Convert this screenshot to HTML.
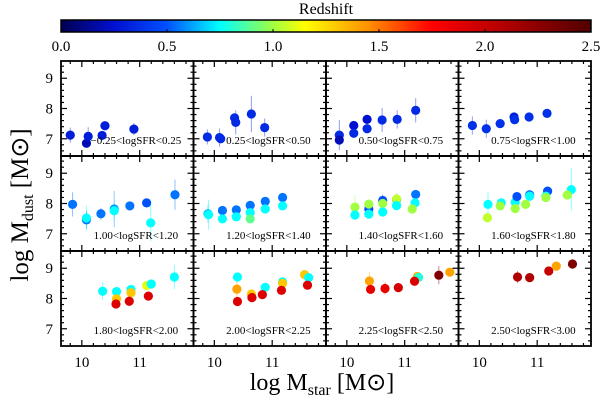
<!DOCTYPE html>
<html><head><meta charset="utf-8"><style>
html,body{margin:0;padding:0;background:#fff;}
svg{display:block;}
text{font-family:"Liberation Serif",serif;fill:#000;}
</style></head><body>
<svg id="chart" width="600" height="401" viewBox="0 0 600 401" xmlns="http://www.w3.org/2000/svg">
<defs>
<linearGradient id="cbar" x1="0" x2="1" y1="0" y2="0">
<stop offset="0" stop-color="#000050"/>
<stop offset="0.1" stop-color="#0010d0"/>
<stop offset="0.2" stop-color="#0050ff"/>
<stop offset="0.3" stop-color="#00ffff"/>
<stop offset="0.4" stop-color="#a0ff40"/>
<stop offset="0.46" stop-color="#ffff00"/>
<stop offset="0.58" stop-color="#ff9000"/>
<stop offset="0.7" stop-color="#ff0000"/>
<stop offset="0.84" stop-color="#b00000"/>
<stop offset="1" stop-color="#500000"/>
</linearGradient>
</defs>
<g id="cbarg"></g>
<g id="panels"></g>
<text x="0" y="0" font-size="25" text-anchor="middle" transform="translate(28,205) rotate(-90)">log M<tspan font-size="16" dy="5">dust</tspan><tspan dy="-5"> [M⊙]</tspan></text>
<text x="322" y="390" font-size="24" text-anchor="middle">log M<tspan font-size="16" dy="5">star</tspan><tspan dy="-5"> [M⊙]</tspan></text>
</svg>
<script>
const NS='http://www.w3.org/2000/svg';
const cbarTicks=[0.0,0.5,1.0,1.5,2.0,2.5];
const xTicks=[10,11];
const yTicks=[7,8,9];
const panelLabels=["\u22120.25<logSFR<0.25","0.25<logSFR<0.50","0.50<logSFR<0.75","0.75<logSFR<1.00","1.00<logSFR<1.20","1.20<logSFR<1.40","1.40<logSFR<1.60","1.60<logSFR<1.80","1.80<logSFR<2.00","2.00<logSFR<2.25","2.25<logSFR<2.50","2.50<logSFR<3.00"];
// each point: [logMstar, logMdust, redshift, err]
const p0=[[9.80,7.12,0.3,0.25],[10.08,6.85,0.2,0.1],[10.11,7.08,0.3,0.3],[10.35,7.11,0.3,0.15],[10.40,7.43,0.3,0.1],[10.90,7.32,0.3,0.2]];
const p1=[[9.88,7.06,0.35,0.25],[10.09,7.04,0.35,0.3],[10.11,7.0,0.35,0.1],[10.35,7.69,0.35,0.15],[10.37,7.54,0.35,0.4],[10.64,7.82,0.35,0.6],[10.87,7.37,0.35,0.3]];
const p2=[[9.87,7.12,0.35,0.5],[9.87,6.96,0.2,0.1],[10.12,7.44,0.25,0.1],[10.12,7.18,0.35,0.1],[10.35,7.64,0.25,0.1],[10.35,7.33,0.35,0.1],[10.61,7.62,0.35,0.4],[10.87,7.64,0.35,0.3],[11.19,7.94,0.35,0.4]];
const p3=[[9.88,7.44,0.38,0.3],[10.12,7.33,0.38,0.3],[10.36,7.50,0.38,0.1],[10.60,7.72,0.3,0.1],[10.61,7.63,0.38,0.1],[10.86,7.72,0.38,0.1],[11.17,7.84,0.38,0.1]];
const p4=[[9.84,7.97,0.55,0.4],[10.08,7.46,0.55,0.3],[10.08,7.52,0.75,0.4],[10.33,7.66,0.55,0.2],[10.56,7.82,0.6,0.6],[10.56,7.76,0.75,0.3],[10.83,7.92,0.55,0.1],[11.12,8.02,0.5,0.1],[11.19,7.36,0.75,0.6],[11.61,8.29,0.55,0.5]];
const p5=[[9.89,7.66,0.65,0.3],[9.90,7.63,0.75,0.5],[10.14,7.77,0.55,0.1],[10.14,7.49,0.75,0.1],[10.38,7.79,0.55,0.1],[10.38,7.56,0.75,0.1],[10.62,7.94,0.55,0.1],[10.62,7.70,0.75,0.1],[10.62,7.49,0.9,0.1],[10.88,8.07,0.55,0.1],[10.88,7.82,0.75,0.1],[11.18,8.20,0.55,0.1],[11.18,7.92,0.75,0.1]];
const p6=[[10.14,7.88,1.0,0.4],[10.14,7.62,0.75,0.1],[10.38,7.82,0.5,0.1],[10.38,7.98,1.0,0.1],[10.38,7.65,0.75,0.1],[10.62,8.10,0.5,0.2],[10.62,8.00,1.0,0.1],[10.62,7.72,0.75,0.1],[10.86,8.13,0.55,0.2],[10.86,8.15,1.05,0.1],[10.86,7.93,0.75,0.1],[11.19,8.30,0.55,0.1],[11.18,8.02,0.75,0.1],[11.13,7.82,1.0,0.1]];
const p7=[[10.15,7.97,0.75,0.4],[10.14,7.53,1.05,0.1],[10.38,8.02,0.75,0.1],[10.36,7.92,1.0,0.1],[10.62,8.04,0.75,0.1],[10.62,7.83,1.0,0.1],[10.65,8.23,0.5,0.1],[10.87,8.29,0.55,0.1],[10.87,8.24,0.75,0.1],[10.80,7.97,1.0,0.1],[11.18,8.41,0.5,0.1],[11.15,8.24,0.75,0.1],[11.15,8.20,1.0,0.1],[11.59,8.46,0.75,0.7],[11.52,8.28,1.0,0.1]];
const p8=[[10.36,8.24,0.75,0.3],[10.60,8.23,0.75,0.1],[10.60,7.99,1.3,0.1],[10.59,7.82,1.9,0.1],[10.85,8.30,0.75,0.1],[10.85,8.19,1.3,0.1],[10.82,7.91,1.9,0.1],[11.12,8.43,1.1,0.1],[11.20,8.48,0.75,0.1],[11.15,8.08,1.9,0.1],[11.60,8.71,0.75,0.4]];
const p9=[[10.40,8.71,0.75,0.1],[10.39,8.31,1.4,0.4],[10.40,7.90,1.9,0.1],[10.64,8.15,1.3,0.1],[10.65,8.03,1.9,0.1],[10.88,8.37,0.75,0.1],[10.83,8.13,1.9,0.1],[11.18,8.55,0.75,0.1],[11.18,8.50,1.3,0.1],[11.16,8.27,1.9,0.1],[11.56,8.79,1.3,0.1],[11.63,8.69,0.75,0.1],[11.61,8.44,1.9,0.1]];
const p10=[[10.39,8.58,1.4,0.3],[10.41,8.30,1.85,0.1],[10.66,8.33,1.85,0.2],[10.89,8.36,1.95,0.1],[11.22,8.73,1.35,0.1],[11.24,8.70,0.8,0.1],[11.17,8.57,1.9,0.1],[11.59,8.77,2.3,0.3],[11.78,8.87,1.4,0.1]];
const p11=[[10.66,8.71,2.1,0.2],[10.87,8.69,2.1,0.1],[11.20,8.91,2.0,0.1],[11.33,9.07,1.4,0.1],[11.61,9.14,2.3,0.1]];
const panelData=[p0,p1,p2,p3,p4,p5,p6,p7,p8,p9,p10,p11];

const CS=[[0,[0,0,80]],[0.25,[0,16,208]],[0.5,[0,80,255]],[0.75,[0,255,255]],[1.0,[160,255,64]],[1.15,[255,255,0]],[1.45,[255,144,0]],[1.75,[255,0,0]],[2.1,[176,0,0]],[2.5,[80,0,0]]];
function zcol(z){for(let i=0;i<CS.length-1;i++){const a=CS[i],b=CS[i+1];if(z<=b[0]){const t=Math.max(0,(z-a[0])/(b[0]-a[0]));return 'rgb('+a[1].map((v,k)=>Math.round(v+(b[1][k]-v)*t)).join(',')+')';}}return 'rgb(80,0,0)';}
function mk(tag,attrs,parent){const e=document.createElementNS(NS,tag);for(const k in attrs)e.setAttribute(k,attrs[k]);parent.appendChild(e);return e;}

const CBX0=61,CBX1=591,CBY=20,CBH=12;
const cb=document.getElementById('cbarg');
const cbz=z=>CBX0+(z/2.5)*(CBX1-CBX0);
const cr=mk('rect',{x:CBX0,y:CBY,width:CBX1-CBX0,height:CBH,fill:'url(#cbar)',stroke:'#000','stroke-width':1.5},cb);


const ct=mk('text',{x:326,y:14,'font-size':16,'text-anchor':'middle'},cb);ct.textContent='Redshift';


cbarTicks.forEach(v=>{const t=mk('text',{x:cbz(v),y:51,'font-size':15,'text-anchor':'middle'},cb);t.textContent=v.toFixed(1);


mk('line',{x1:cbz(v),x2:cbz(v),y1:CBY+CBH,y2:CBY+CBH-3,stroke:'#000'},cb);});

const L=61,T=61,W=132.5,H=95;
const XMIN=9.64,XMAX=11.93,YMIN=6.43,YMAX=9.57;
const pg=document.getElementById('panels');
panelData.forEach((pts,i)=>{
  const c=i%4,r=Math.floor(i/4);const x0=L+c*W,y0=T+r*H;
  const sx=v=>x0+(v-XMIN)/(XMAX-XMIN)*W;
  const sy=v=>y0+H-(v-YMIN)/(YMAX-YMIN)*H;
  const g=mk('g',{},pg);
  
  
  pts.forEach(p=>{mk('line',{x1:sx(p[0]),x2:sx(p[0]),y1:sy(p[1]+p[3]),y2:sy(p[1]-p[3]),stroke:zcol(p[2]),'stroke-opacity':0.45,'stroke-width':1},g);});
  pts.forEach(p=>{const d=mk('circle',{cx:sx(p[0]),cy:sy(p[1]),r:4.6,fill:zcol(p[2])},g);
    
    });
  for(let v=9.8;v<=11.81;v+=0.2){const X=sx(v);const maj=Math.abs(v-Math.round(v))<0.01;const len=maj?6:3;
    mk('line',{x1:X,x2:X,y1:y0+H,y2:y0+H-len,stroke:'#000','stroke-width':1.2},g);
    mk('line',{x1:X,x2:X,y1:y0,y2:y0+len,stroke:'#000','stroke-width':1.2},g);}
  for(let v=6.6;v<=9.41;v+=0.2){const Y=sy(v);const maj=Math.abs(v-Math.round(v))<0.01;const len=maj?6:3;
    mk('line',{x1:x0,x2:x0+len,y1:Y,y2:Y,stroke:'#000','stroke-width':1.2},g);
    mk('line',{x1:x0+W,x2:x0+W-len,y1:Y,y2:Y,stroke:'#000','stroke-width':1.2},g);}
  mk('rect',{x:x0,y:y0,width:W,height:H,fill:'none',stroke:'#000','stroke-width':1.8},g);
  const lb=mk('text',{x:x0+W*0.52+6,y:y0+H-12,'font-size':11,'text-anchor':'middle'},g);lb.textContent=panelLabels[i];
  
  
  if(c===0){yTicks.forEach(v=>{const t=mk('text',{x:x0-8,y:sy(v)+5,'font-size':15,'text-anchor':'end'},g);t.textContent=v;
    
    });}
  if(r===2){xTicks.forEach(v=>{const t=mk('text',{x:sx(v),y:y0+H+21,'font-size':15,'text-anchor':'middle'},g);t.textContent=v;
    
    });}
});
</script>
</body></html>
